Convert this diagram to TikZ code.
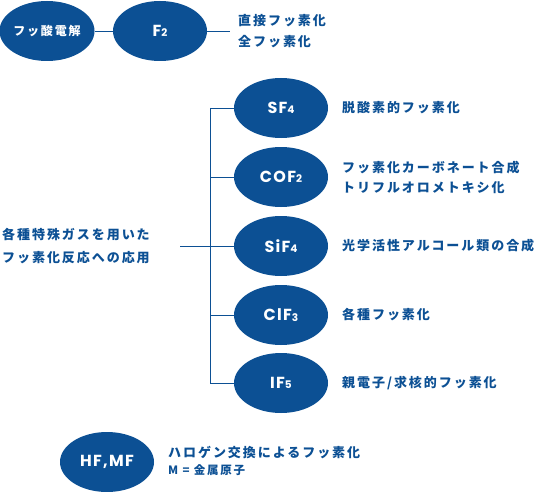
\documentclass[tikz,border=0pt]{standalone}
\usepackage{fontspec}
\setmainfont{Noto Sans CJK JP}[LetterSpace=15]
\newfontfamily\gasfont{Poppins}[LetterSpace=8]
\usetikzlibrary{shapes,positioning,calc}
\definecolor{fblue}{RGB}{12,80,148}
\newcommand{\nsub}[1]{\raisebox{-0.6pt}{\fontsize{10.5}{10}\selectfont #1}}

\begin{document}
\begin{tikzpicture}[x=1pt,y=-1pt,
    gas/.style={ellipse,fill=fblue,text=white,minimum width=94pt,minimum height=60pt,inner sep=0pt,
        font=\gasfont\bfseries\fontsize{16}{16}\selectfont},
    use/.style={anchor=west,text=fblue,align=left,inner sep=0pt,
        font=\bfseries\fontsize{13}{21}\selectfont},
    link/.style={draw=fblue,line width=0.9pt}]
    \useasboundingbox (0,0) rectangle (551,492);

    % top row
    \node[gas,font=\bfseries\fontsize{12}{12}\selectfont] (hfe) at (47,31) {フッ酸電解};
    \node[gas] (f2) at (160,31) {F\nsub{2}};
    \coordinate (f2end) at (230,31);
    \draw[link] (hfe) -- (f2);
    \draw[link] (f2) -- (f2end);
    \node[use] (f2use) at (238,31) {直接フッ素化\\全フッ素化};

    % special gases
    \node[gas] (sf4)  at (281,108) {SF\nsub{4}};
    \node[gas] (cof2) at (281,177) {COF\nsub{2}};
    \node[gas] (sif4) at (281,246) {SiF\nsub{4}};
    \node[gas] (clf3) at (281,315) {ClF\nsub{3}};
    \node[gas] (if5)  at (281,383) {IF\nsub{5}};

    \node[use] (sf4use)  at (342,108) {脱酸素的フッ素化};
    \node[use,font=\bfseries\fontsize{13}{20}\selectfont] (cof2use) at (342,177) {フッ素化カーボネート合成\\トリフルオロメトキシ化};
    \node[use] (sif4use) at (342,246) {光学活性アルコール類の合成};
    \node[use] (clf3use) at (342,315) {各種フッ素化};
    \node[use] (if5use)  at (342,383) {親電子/求核的フッ素化};

    \node[use,font=\bfseries\fontsize{13}{23}\selectfont] (apply) at (2,246) {各種特殊ガスを用いた\\フッ素化反応への応用};
    \coordinate (trunktop) at (210,108);
    \coordinate (trunkbot) at (210,383);
    \coordinate (applyend) at (180,246);
    \draw[link] (trunktop) -- (trunkbot);
    \draw[link] (applyend) -- (sif4);
    \foreach \g in {sf4,cof2,clf3,if5}
        \draw[link] (\g.west -| trunktop) -- (\g);

    % halogen exchange
    \node[gas] (hfmf) at (107,462) {HF,MF};
    \node[use,anchor=south west] (hfmfuse) at (168,459) {ハロゲン交換によるフッ素化};
    \node[use,anchor=north west,font=\bfseries\fontsize{11.5}{11}\selectfont] (metal) at (168,464) {M = 金属原子};
\end{tikzpicture}
\end{document}
